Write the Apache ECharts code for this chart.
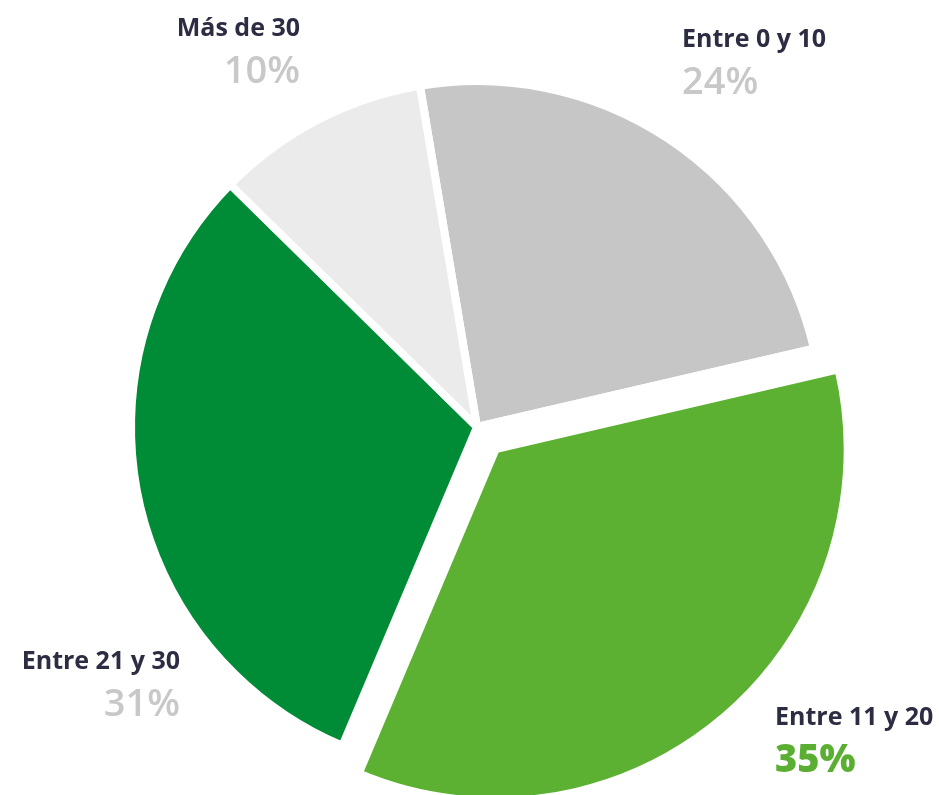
<!DOCTYPE html>
<html>
<head>
<meta charset="utf-8">
<script src="https://cdn.jsdelivr.net/npm/echarts@6/dist/echarts.min.js"></script>
<style>
  html, body { margin: 0; padding: 0; background: #fff; }
  #main { width: 939px; height: 795px; }
</style>
</head>
<body>
<div id="main"></div>
<script>
// datos
const categorias = ['Entre 0 y 10', 'Entre 11 y 20', 'Entre 21 y 30', 'Más de 30']
const valores = [24, 35, 31, 10]
const colores = ['#c6c6c6', '#5cb032', '#008c36', '#ebebeb']
const destacado = 'Entre 11 y 20'

// posicion de las etiquetas (x, y, alineacion)
const posEtiquetas = [
  [682, 20, 'left'],
  [775, 698, 'left'],
  [180, 642, 'right'],
  [300, 9, 'right']
]

const chart = echarts.init(document.getElementById('main'))

const base = {
  type: 'pie',
  center: [477, 427],
  startAngle: 99.5,
  clockwise: true,
  avoidLabelOverlap: false,
  emphasis: { disabled: true },
  labelLine: { show: false }
}

chart.setOption({
  animation: false,
  series: [
    // todas las porciones (la destacada va transparente, se dibuja en la otra serie)
    Object.assign({}, base, {
      radius: 346,
      itemStyle: { borderColor: '#fff', borderWidth: 8 },
      label: {
        show: true,
        position: 'outside',
        formatter: '{n|{b}}\n{p|{d}%}',
        fontFamily: 'Open Sans',
        rich: {
          n: {
            fontFamily: 'Open Sans',
            fontSize: 25,
            fontWeight: 'bold',
            color: '#2c2c42',
            lineHeight: 40
          },
          p: {
            fontFamily: 'Open Sans',
            fontSize: 38,
            fontWeight: 600,
            color: '#c8c8c8',
            lineHeight: 46
          }
        }
      },
      labelLayout: function (params) {
        const p = posEtiquetas[params.dataIndex]
        return { x: p[0], y: p[1], align: p[2], verticalAlign: 'top' }
      },
      data: categorias.map(function (c, i) {
        const item = { name: c, value: valores[i], itemStyle: { color: colores[i] } }
        if (c === destacado) {
          item.itemStyle = { color: 'transparent' }
          item.label = {
            rich: {
              p: {
                fontFamily: 'Open Sans',
                fontSize: 38,
                fontWeight: 800,
                color: '#5aaf32',
                lineHeight: 46
              }
            }
          }
        }
        return item
      })
    }),
    // porcion destacada, separada y algo mas grande
    Object.assign({}, base, {
      radius: 352,
      silent: true,
      selectedMode: 'single',
      selectedOffset: 29,
      label: { show: false },
      data: categorias.map(function (c, i) {
        if (c === destacado) {
          return {
            name: c,
            value: valores[i],
            selected: true,
            itemStyle: { color: colores[i], borderColor: '#fff', borderWidth: 8 },
            select: { itemStyle: { color: colores[i] } }
          }
        }
        return { name: c, value: valores[i], itemStyle: { color: 'transparent', borderWidth: 0 } }
      })
    })
  ]
})
</script>
</body>
</html>
